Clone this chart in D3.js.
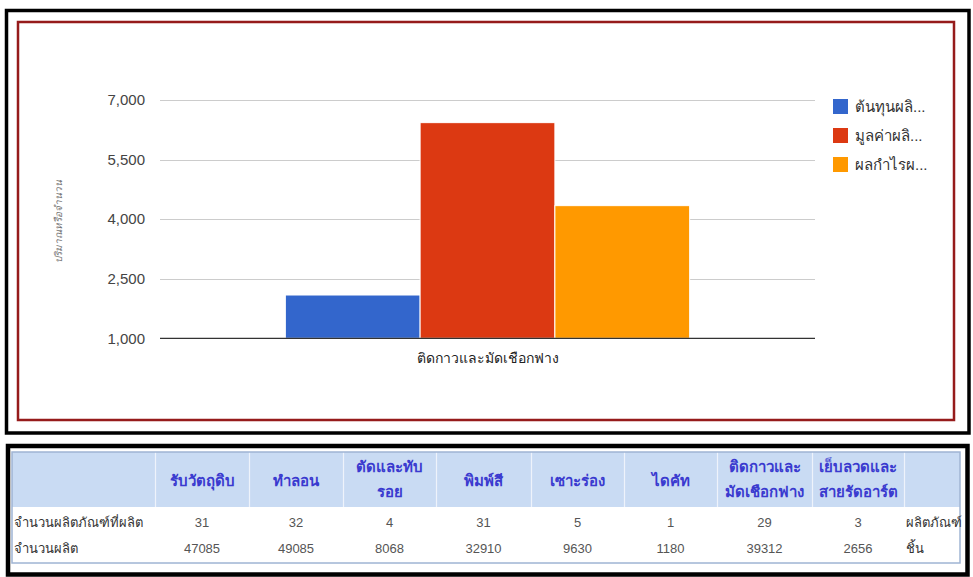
<!DOCTYPE html>
<html>
<head>
<meta charset="utf-8">
<script src="https://cdn.jsdelivr.net/npm/d3@7"></script>
<style>
  html, body { margin: 0; padding: 0; background: #ffffff; }
  svg { display: block; }
</style>
</head>
<body>
<svg id="chart" width="973" height="577"></svg>
<script>
// Chart data
const categories = ["ติดกาวและมัดเชือกฟาง"];
const seriesNames = ["ต้นทุนผลิ...", "มูลค่าผลิ...", "ผลกำไรผ..."];
const seriesValues = [2090, 6430, 4340];
const seriesColors = ["#3366cc", "#dc3912", "#ff9900"];
const yTicks = [1000, 2500, 4000, 5500, 7000];
const yTitle = "ปริมาณหรือจำนวน";

// Table data
const processes = ["รับวัตถุดิบ", "ทำลอน", "ตัดและทับ\nรอย", "พิมพ์สี", "เซาะร่อง", "ไดคัท", "ติดกาวและ\nมัดเชือกฟาง", "เย็บลวดและ\nสายรัดอาร์ต"];
const rowLabels = ["จำนวนผลิตภัณฑ์ที่ผลิต", "จำนวนผลิต"];
const productCounts = [31, 32, 4, 31, 5, 1, 29, 3];
const productionCounts = [47085, 49085, 8068, 32910, 9630, 1180, 39312, 2656];
const rowUnits = ["ผลิตภัณฑ์", "ชิ้น"];

const FONT = "Arial, 'Liberation Sans', 'Noto Sans', sans-serif";
const svg = d3.select("#chart");

// Frames
svg.append("rect").attr("x", 6.5).attr("y", 10.5).attr("width", 962.5).attr("height", 422.5)
  .attr("fill", "#ffffff").attr("stroke", "#000").attr("stroke-width", 3.5);
svg.append("rect").attr("x", 18).attr("y", 22).attr("width", 936).attr("height", 398)
  .attr("fill", "#ffffff").attr("stroke", "#961b1b").attr("stroke-width", 2.5);

// Scales
const plot = { left: 160, right: 815, top: 100, bottom: 338.3 };
const y = d3.scaleLinear().domain([1000, 7000]).range([plot.bottom, plot.top]);
const x0 = d3.scaleBand().domain(categories).range([plot.left, plot.right])
  .paddingInner(0).paddingOuter(0.31);
const x1 = d3.scaleBand().domain(seriesNames).range([0, x0.bandwidth()]).padding(0);

// Gridlines
svg.append("g").selectAll("line").data(yTicks.slice(1)).join("line")
  .attr("x1", plot.left).attr("x2", plot.right)
  .attr("y1", d => Math.round(y(d)) + 0.5).attr("y2", d => Math.round(y(d)) + 0.5)
  .attr("stroke", "#cccccc").attr("stroke-width", 1);

// Y axis tick labels
const yAxis = svg.append("g").attr("transform", `translate(${plot.left},0)`)
  .call(d3.axisLeft(y).tickValues(yTicks).tickSize(0).tickPadding(15).tickFormat(d3.format(",")));
yAxis.select(".domain").remove();
yAxis.selectAll("text").attr("font-family", FONT).attr("font-size", 15).attr("fill", "#444");

// Y axis title
svg.append("text")
  .attr("transform", `translate(62,${(plot.top + plot.bottom) / 2 + 2}) rotate(-90)`)
  .attr("text-anchor", "middle").attr("font-family", FONT).attr("font-size", 10)
  .attr("font-style", "italic").attr("fill", "#777").text(yTitle);

// Bars
const groups = svg.append("g").selectAll("g").data(categories).join("g")
  .attr("transform", d => `translate(${x0(d)},0)`);
groups.selectAll("rect").data(() => seriesNames.map((s, i) => ({ s, v: seriesValues[i], c: seriesColors[i] })))
  .join("rect")
  .attr("x", d => x1(d.s)).attr("width", x1.bandwidth())
  .attr("y", d => y(d.v)).attr("height", d => y(1000) - y(d.v))
  .attr("fill", d => d.c).attr("stroke", "#ffffff").attr("stroke-width", 1);

// Baseline
svg.append("line").attr("x1", plot.left).attr("x2", plot.right)
  .attr("y1", y(1000)).attr("y2", y(1000)).attr("stroke", "#333").attr("stroke-width", 1.3);

// X axis labels
svg.append("g").selectAll("text").data(categories).join("text")
  .attr("x", d => x0(d) + x0.bandwidth() / 2).attr("y", 363)
  .attr("text-anchor", "middle").attr("font-family", FONT).attr("font-size", 14)
  .attr("fill", "#222").text(d => d);

// Legend
const legend = svg.append("g").attr("transform", "translate(833,99)");
const li = legend.selectAll("g").data(seriesNames).join("g")
  .attr("transform", (d, i) => `translate(0,${i * 29})`);
li.append("rect").attr("width", 15).attr("height", 15).attr("fill", (d, i) => seriesColors[i]);
li.append("text").attr("x", 22).attr("y", 13).attr("font-family", FONT).attr("font-size", 15)
  .attr("fill", "#333").text(d => d);

// Table frame
svg.append("rect").attr("x", 8).attr("y", 446).attr("width", 959.5).attr("height", 128.5)
  .attr("fill", "#ffffff").attr("stroke", "#000").attr("stroke-width", 4.5);

const tbl = { left: 12, right: 960, top: 452, headerBottom: 507, bottom: 563 };
const colEdges = [12, 155, 249, 343, 436, 531, 624, 717, 812, 904, 960];

// Header background
svg.append("rect").attr("x", tbl.left).attr("y", tbl.top)
  .attr("width", tbl.right - tbl.left).attr("height", tbl.headerBottom - tbl.top)
  .attr("fill", "#c9dbf3");
// Column separators in the header
svg.append("g").selectAll("line").data(colEdges.slice(1, -1)).join("line")
  .attr("x1", d => d + 0.5).attr("x2", d => d + 0.5)
  .attr("y1", tbl.top).attr("y2", tbl.headerBottom)
  .attr("stroke", "#eef3fb").attr("stroke-width", 1.2);
// Table border
svg.append("rect").attr("x", tbl.left).attr("y", tbl.top)
  .attr("width", tbl.right - tbl.left).attr("height", tbl.bottom - tbl.top)
  .attr("fill", "none").attr("stroke", "#9fb4d3").attr("stroke-width", 1.5);

// Header text
const head = svg.append("g").selectAll("text").data(processes).join("text")
  .attr("x", (d, i) => (colEdges[i + 1] + colEdges[i + 2]) / 2)
  .attr("text-anchor", "middle").attr("font-family", FONT).attr("font-size", 15)
  .attr("font-weight", "bold").attr("fill", "#3a3acf");
head.each(function (d) {
  const lines = d.split("\n");
  const t = d3.select(this);
  const startY = lines.length === 1 ? 486 : 472;
  lines.forEach((ln, k) => t.append("tspan").attr("x", t.attr("x")).attr("y", startY + k * 25).text(ln));
});

// Body rows
const rows = [productCounts, productionCounts];
const rowY = [527, 553];
rows.forEach((vals, r) => {
  svg.append("text").attr("x", 14).attr("y", rowY[r]).attr("font-family", FONT)
    .attr("font-size", 13).attr("fill", "#333").text(rowLabels[r]);
  svg.append("g").selectAll("text").data(vals).join("text")
    .attr("x", (d, i) => (colEdges[i + 1] + colEdges[i + 2]) / 2).attr("y", rowY[r])
    .attr("text-anchor", "middle").attr("font-family", FONT).attr("font-size", 13)
    .attr("fill", "#555").text(d => d);
  svg.append("text").attr("x", 906).attr("y", rowY[r]).attr("font-family", FONT)
    .attr("font-size", 13).attr("fill", "#333").text(rowUnits[r]);
});
</script>
</body>
</html>
